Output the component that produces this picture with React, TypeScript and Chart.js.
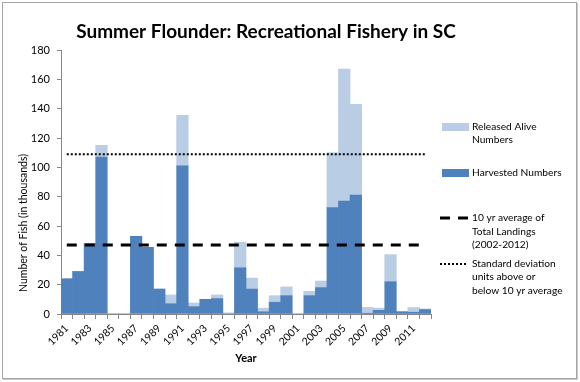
import { useEffect, useRef } from 'react';
import { Chart, registerables } from 'chart.js';

Chart.register(...registerables);

const years = [
  '1981','1982','1983','1984','1985','1986','1987','1988','1989','1990',
  '1991','1992','1993','1994','1995','1996','1997','1998','1999','2000',
  '2001','2002','2003','2004','2005','2006','2007','2008','2009','2010',
  '2011','2012',
];
const harvested = [
  24, 29, 48, 107, 0, 0, 53, 45.5, 17, 7,
  101, 5, 10, 10.5, 0, 31.5, 17, 1.5, 8, 12.5,
  0, 12.5, 18, 72.5, 77, 81, 0.5, 2.5, 22, 1.5,
  1.2, 3,
];
const released = [
  0, 0, 0, 8, 0, 0, 0, 0, 0, 6,
  34.5, 2.5, 0, 2.5, 0.8, 17.5, 7.5, 2.5, 4.5, 6,
  0, 3, 4.5, 37.5, 90, 62, 4, 1.5, 18.5, 0.3,
  3.2, 0.5,
];
const tenYrAverage = 47;
const sdAbove = 109;
const yMax = 180;
const yStep = 20;

const FONT = 'Lato, "Open Sans", sans-serif';
const HARV_COLOR = '#4F81BD';
const REL_COLOR = '#B9CDE5';

const decorPlugin = {
  id: 'decor',
  beforeDraw(chart: any) {
    const ctx = chart.ctx;
    ctx.save();
    ctx.fillStyle = '#ffffff';
    ctx.fillRect(0, 0, chart.width, chart.height);
    ctx.restore();
  },
  afterDraw(chart: any) {
    const ctx = chart.ctx;
    const ds = chart.data.datasets;
    ctx.save();
    // border
    ctx.strokeStyle = '#A6A6A6';
    ctx.lineWidth = 1;
    ctx.strokeRect(2.5, 2.5, 574, 376);
    ctx.strokeStyle = '#C8C8C8';
    ctx.beginPath();
    ctx.moveTo(577.5, 3);
    ctx.lineTo(577.5, 379.5);
    ctx.lineTo(3, 379.5);
    ctx.stroke();

    // title
    ctx.fillStyle = '#000';
    ctx.textAlign = 'center';
    ctx.textBaseline = 'middle';
    ctx.font = `bold 19px ${FONT}`;
    ctx.fillText('Summer Flounder: Recreational Fishery in SC', 266, 32);

    // axis titles
    ctx.font = `bold 11px ${FONT}`;
    ctx.fillText('Year', 246, 358);
    ctx.save();
    ctx.translate(24, 223);
    ctx.rotate(-Math.PI / 2);
    ctx.font = `10.5px ${FONT}`;
    ctx.fillText('Number of Fish (in thousands)', 0, 0);
    ctx.restore();

    // legend
    ctx.textAlign = 'left';
    ctx.font = `10.2px ${FONT}`;
    ctx.fillStyle = ds[1].backgroundColor;
    ctx.fillRect(442, 123, 27, 8);
    ctx.fillStyle = ds[0].backgroundColor;
    ctx.fillRect(442, 169, 27, 8);
    ctx.fillStyle = '#000';
    ctx.fillText('Released Alive', 472, 127);
    ctx.fillText('Numbers', 472, 140);
    ctx.fillText('Harvested Numbers', 472, 173);

    ctx.strokeStyle = ds[2].borderColor;
    ctx.lineWidth = ds[2].borderWidth;
    ctx.setLineDash(ds[2].borderDash);
    ctx.beginPath();
    ctx.moveTo(440, 218);
    ctx.lineTo(468, 218);
    ctx.stroke();
    ctx.fillText('10 yr average of', 472, 218);
    ctx.fillText('Total Landings', 472, 232);
    ctx.fillText('(2002-2012)', 472, 245);

    ctx.strokeStyle = ds[3].borderColor;
    ctx.lineWidth = ds[3].borderWidth;
    ctx.setLineDash(ds[3].borderDash);
    ctx.beginPath();
    ctx.moveTo(440, 264);
    ctx.lineTo(468, 264);
    ctx.stroke();
    ctx.setLineDash([]);
    ctx.fillText('Standard deviation', 472, 264);
    ctx.fillText('units above or', 472, 277);
    ctx.fillText('below 10 yr average', 472, 291);
    ctx.restore();
  },
};

export default function App() {
  const ref = useRef<HTMLCanvasElement | null>(null);
  useEffect(() => {
    if (!ref.current) return;
    const chart = new Chart(ref.current, {
      type: 'bar',
      data: {
        labels: years,
        datasets: [
          {
            label: 'Harvested Numbers',
            data: harvested,
            backgroundColor: HARV_COLOR,
            barPercentage: 1,
            categoryPercentage: 1,
            borderWidth: 0,
            stack: 'fish',
            order: 2,
          },
          {
            label: 'Released Alive Numbers',
            data: released,
            backgroundColor: REL_COLOR,
            barPercentage: 1,
            categoryPercentage: 1,
            borderWidth: 0,
            stack: 'fish',
            order: 2,
          },
          {
            type: 'line',
            label: '10 yr average of Total Landings (2002-2012)',
            data: years.map(() => tenYrAverage),
            borderColor: '#000000',
            borderWidth: 3,
            borderDash: [10, 8],
            pointRadius: 0,
            fill: false,
            stack: 'avg',
            order: 1,
          },
          {
            type: 'line',
            label: 'Standard deviation units above or below 10 yr average',
            data: years.map(() => sdAbove),
            borderColor: '#000000',
            borderWidth: 2,
            borderDash: [2, 2],
            pointRadius: 0,
            fill: false,
            stack: 'sd',
            order: 1,
          },
        ] as any,
      },
      options: {
        responsive: false,
        animation: false,
        layout: { padding: { left: 20, right: 149, top: 50, bottom: 0 } },
        plugins: {
          legend: { display: false },
          title: { display: false },
          tooltip: { enabled: false },
        },
        scales: {
          x: {
            stacked: true,
            offset: true,
            grid: {
              display: true,
              drawOnChartArea: false,
              drawTicks: true,
              tickLength: 5,
              color: '#868686',
              offset: true,
            },
            border: { display: true, color: '#868686' },
            ticks: {
              autoSkip: false,
              minRotation: 45,
              maxRotation: 45,
              color: '#000',
              font: { family: FONT, size: 10.5 },
              padding: 3,
              callback: (_v: any, i: number) => (i % 2 === 0 ? years[i] : ''),
            },
            afterFit: (scale: any) => {
              scale.height = 68;
            },
          },
          y: {
            stacked: true,
            min: 0,
            max: yMax,
            grid: {
              display: true,
              drawOnChartArea: false,
              drawTicks: true,
              tickLength: 4,
              color: '#868686',
            },
            border: { display: true, color: '#868686' },
            ticks: {
              stepSize: yStep,
              color: '#000',
              padding: 7,
              font: { family: FONT, size: 11 },
            },
            afterFit: (scale: any) => {
              scale.width = 41;
            },
          },
        },
      },
      plugins: [decorPlugin],
    });
    return () => chart.destroy();
  }, []);
  return (
    <div style={{ position: 'absolute', left: 0, top: 0, width: 580, height: 382 }}>
      <canvas ref={ref} width={580} height={382} />
    </div>
  );
}
